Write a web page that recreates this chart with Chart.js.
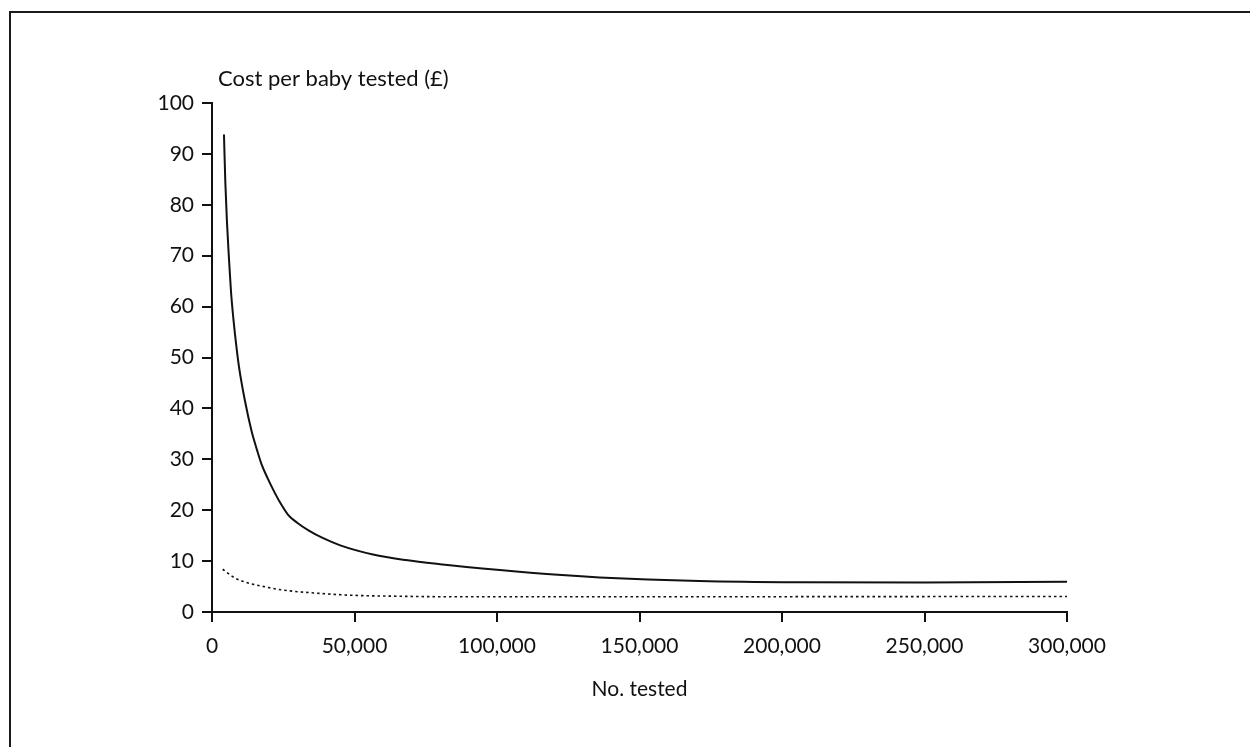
<!DOCTYPE html>
<html>
<head>
<meta charset="utf-8">
<script src="https://cdn.jsdelivr.net/npm/chart.js@4/dist/chart.umd.min.js"></script>
<style>
  html, body { margin: 0; padding: 0; background: #fff; overflow: hidden; }
  #wrap { position: relative; width: 1250px; height: 747px; }
  #frame { position: absolute; left: 9px; top: 11px; width: 1400px; height: 900px; border-left: 2px solid #1a1a1a; border-top: 2px solid #1a1a1a; }
  #chart { position: absolute; left: 0; top: 0; }
</style>
</head>
<body>
<div id="wrap">
  <div id="frame"></div>
  <canvas id="chart" width="1250" height="747"></canvas>
</div>
<script>
// values
const solidTested = [4200, 4670, 5260, 6000, 6660, 7470, 8060, 9460, 11560, 13900, 15700, 17400, 19500, 21500, 24000, 26700, 30000, 34000, 39000, 45000, 56500, 68000, 80000, 101000, 120000, 136000, 171000, 206000, 250000, 300000];
const solidCost = [93.8, 84.5, 76.5, 69, 63, 57.8, 54.6, 48.2, 41.5, 35.5, 32, 29, 26.3, 24, 21.4, 19.1, 17.5, 16, 14.5, 13.1, 11.3, 10.2, 9.4, 8.25, 7.35, 6.8, 6.1, 5.85, 5.8, 5.95];

const dottedTested = [3750, 8000, 13300, 19000, 25000, 36700, 48400, 65000, 83400, 150000, 300000];
const dottedCost = [8.4, 6.7, 5.6, 4.9, 4.3, 3.7, 3.3, 3.1, 3.0, 3.0, 3.05];

const xTicks = [0, 50000, 100000, 150000, 200000, 250000, 300000];
const yTicks = [0, 10, 20, 30, 40, 50, 60, 70, 80, 90, 100];

const yTitle = 'Cost per baby tested (£)';
const xTitle = 'No. tested';

const ink = '#111';
const fontFamily = 'Lato, "Open Sans", sans-serif';

const toPoints = (xs, ys) => xs.map((x, i) => ({ x, y: ys[i] }));

// y-axis title sits horizontally above the axis
const yTitlePlugin = {
  id: 'yTitle',
  afterDraw(chart) {
    const { ctx, chartArea } = chart;
    ctx.save();
    ctx.font = `22px ${fontFamily}`;
    ctx.fillStyle = ink;
    ctx.textBaseline = 'middle';
    ctx.textAlign = 'left';
    ctx.fillText(yTitle, chartArea.left + 6, chartArea.top - 24);
    ctx.restore();
  },
};

new Chart(document.getElementById('chart').getContext('2d'), {
  type: 'line',
  data: {
    datasets: [
      {
        data: toPoints(solidTested, solidCost),
        borderColor: ink,
        borderWidth: 2,
        pointRadius: 0,
        cubicInterpolationMode: 'monotone',
        fill: false,
      },
      {
        data: toPoints(dottedTested, dottedCost),
        borderColor: ink,
        borderWidth: 1.6,
        borderDash: [2.5, 3],
        pointRadius: 0,
        cubicInterpolationMode: 'monotone',
        fill: false,
      },
    ],
  },
  options: {
    responsive: false,
    animation: false,
    layout: { padding: { left: 0, top: 103, right: 183, bottom: 0 } },
    plugins: { legend: { display: false }, tooltip: { enabled: false } },
    scales: {
      x: {
        type: 'linear',
        min: xTicks[0],
        max: xTicks[xTicks.length - 1],
        afterBuildTicks: (scale) => { scale.ticks = xTicks.map((v) => ({ value: v })); },
        afterFit: (scale) => { scale.height = 135; },
        border: { display: true, color: ink, width: 2 },
        grid: { drawOnChartArea: false, drawTicks: true, tickLength: 10, color: ink, lineWidth: 2 },
        ticks: {
          color: ink,
          padding: 12,
          maxRotation: 0,
          font: { family: fontFamily, size: 21 },
          callback: (v) => v.toLocaleString('en-GB'),
        },
        title: {
          display: true,
          text: xTitle,
          color: ink,
          font: { family: fontFamily, size: 21 },
          padding: { top: 0, bottom: 45 },
        },
      },
      y: {
        type: 'linear',
        min: yTicks[0],
        max: yTicks[yTicks.length - 1],
        afterBuildTicks: (scale) => { scale.ticks = yTicks.map((v) => ({ value: v })); },
        afterFit: (scale) => { scale.width = 212; },
        border: { display: true, color: ink, width: 2 },
        grid: { drawOnChartArea: false, drawTicks: true, tickLength: 10, color: ink, lineWidth: 2 },
        ticks: {
          color: ink,
          padding: 8,
          font: { family: fontFamily, size: 21 },
        },
      },
    },
  },
  plugins: [yTitlePlugin],
});
</script>
</body>
</html>
